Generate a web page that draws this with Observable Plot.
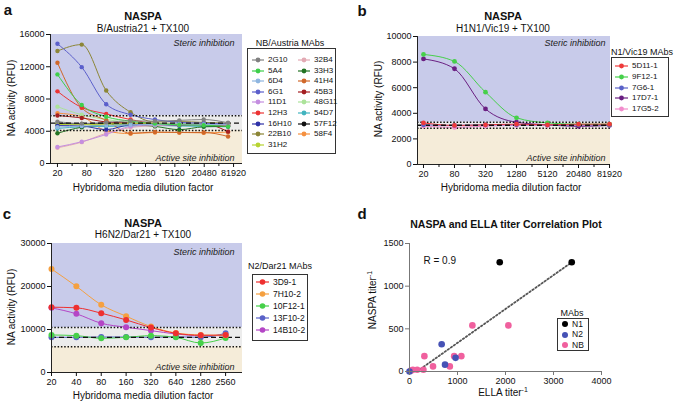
<!DOCTYPE html>
<html><head><meta charset="utf-8">
<script src="https://cdn.jsdelivr.net/npm/d3@7"></script>
<script src="https://cdn.jsdelivr.net/npm/@observablehq/plot@0.6"></script>
<style>
html,body{margin:0;padding:0;background:#fff;}
#root{position:relative;width:675px;height:403px;overflow:hidden;font-family:"Liberation Sans",Arial,sans-serif;color:#111;}
.abs{position:absolute;white-space:nowrap;line-height:1;}
.c{transform:translate(-50%,-50%);}
.rot{transform:translate(-50%,-50%) rotate(-90deg);}
.box{position:absolute;border:1px solid #333;box-sizing:border-box;}
.li{position:absolute;display:flex;align-items:center;height:10px;white-space:nowrap;line-height:1;}
.li svg{display:block;}
</style></head>
<body><div id="root"></div>
<script>
// ---------- Panel a: B/Austria21 ----------
const aDilution = [20, 63, 200, 632, 2000, 6320, 20000, 63200];
const aMAbs = ["2G10","5A4","6D4","6G1","11D1","12H3","16H10","22B10","31H2","32B4","33H3","41H4","45B3","48G11","54D7","57F12","58F4"];
const aColors = ["#808080","#3fcf4a","#8fb6e0","#5b5fcb","#c48ee0","#ec3434","#2f32a8","#8c8636","#b8d432","#e3aab4","#237323","#d0682a","#a41f22","#ace39a","#42b4bf","#111111","#f59040"];
const aValues = [
  [5200, 4950, 5100, 5300, 5250, 5350, 5450, 5050],
  [11050, 7250, 5800, 5250, 4950, 4800, 4750, 4600],
  [4500, 4650, 4700, 4800, 4850, 4900, 4850, 4800],
  [14850, 11950, 7350, 6050, 5450, 5100, 5000, 4900],
  [2050, 2700, 3600, 4600, 4800, 4850, 4900, 4750],
  [8950, 6950, 6150, 5450, 4950, 4800, 4850, 4700],
  [4700, 4650, 4200, 4800, 4850, 4750, 4800, 4700],
  [13950, 14750, 9050, 6350, 5150, 5200, 5100, 5000],
  [4850, 4800, 4900, 4950, 4900, 4850, 4900, 4850],
  [1950, 2650, 3750, 4450, 4700, 4800, 4850, 4800],
  [3750, 4500, 4750, 4800, 4600, 4200, 4550, 4600],
  [12500, 6900, 5350, 3750, 3900, 3850, 3850, 3350],
  [5950, 5650, 5150, 5000, 4900, 4850, 4900, 3950],
  [7050, 6050, 5450, 5100, 5000, 4950, 4900, 4800],
  [4350, 4550, 4600, 4650, 4700, 4650, 4600, 4550],
  [4950, 4900, 4950, 5000, 4950, 4950, 4900, 4900],
  [6250, 5800, 4050, 3700, 3850, 3850, 3800, 3900]
];
const aThresholds = [4100, 5000, 5930];   // lower dotted, dashed, upper dotted
const aYTicks = [0, 4000, 8000, 12000, 16000];
const aXTicks = [20, 80, 320, 1280, 5120, 20480, 81920];
const aXMinor = [40, 160, 640, 2560, 10240, 40960];

// ---------- Panel b: H1N1/Vic19 ----------
const bDilution = [20, 80, 320, 1280, 5120, 20480, 81920];
const bMAbs = ["5D11-1","9F12-1","7G6-1","17D7-1","17G5-2"];
const bColors = ["#ee3a3a","#46d04a","#5a62c8","#6a1f82","#f28ccc"];
const bValues = [
  [3250, 3050, 3100, 3150, 3100, 3150, 3150],
  [8600, 8050, 5650, 3650, 3250, 3150, 3150],
  [3100, 3050, 3100, 3100, 3100, 3100, 3100],
  [8250, 7480, 4340, 3300, 3100, 2980, 3050],
  [3000, 2900, 3000, 3050, 3050, 3050, 3100]
];
const bThresholds = [2830, 3065, 3300];
const bYTicks = [0, 2000, 4000, 6000, 8000, 10000];
const bXTicks = [20, 80, 320, 1280, 5120, 20480, 81920];
const bXMinor = [40, 160, 640, 2560, 10240, 40960];

// ---------- Panel c: H6N2/Dar21 ----------
const cDilution = [20, 40, 80, 160, 320, 640, 1280, 2560];
const cMAbs = ["3D9-1","7H10-2","10F12-1","13F10-2","14B10-2"];
const cColors = ["#ee3030","#f5a040","#46d04a","#5a62c8","#b446c6"];
const cValues = [
  [15190, 15040, 13790, 12230, 10440, 9120, 8650, 8730],
  [24080, 20030, 15740, 13090, 10680, 9190, 8730, 8650],
  [8730, 8570, 7950, 8180, 8570, 8180, 6860, 8030],
  [8180, 8180, 8250, 8250, 8180, 8300, 8180, 9120],
  [15040, 13640, 11450, 10520, 9740, 8960, 8570, 8570]
];
const cErrors = [
  [0,0,0,0,0,0,0,0],
  [0,0,0,0,0,0,0,0],
  [0,0,0,0,0,0,900,400],
  [0,0,0,0,0,0,0,0],
  [0,0,0,0,0,0,0,0]
];
const cThresholds = [6000, 8180, 10440];
const cYTicks = [0, 10000, 20000, 30000];
const cXTicks = [20, 40, 80, 160, 320, 640, 1280, 2560];

// ---------- Panel d: correlation ----------
const dGroups = ["N1","N2","NB"];
const dColors = ["#000000","#4652b5","#f0609e"];
const dN1Ella = [1880, 3380];
const dN1Naspa = [1280, 1280];
const dN2Ella = [0, 670, 740, 960];
const dN2Naspa = [0, 320, 80, 160];
const dNBElla = [1310, 2060, 310, 930, 1080, 490, 840, 70, 160, 290, 30];
const dNBNaspa = [540, 540, 180, 180, 180, 60, 60, 20, 20, 20, 10];
const dFitElla = [230, 3380];
const dFitNaspa = [30, 1280];
const dXTicks = [0, 1000, 2000, 3000, 4000];
const dYTicks = [0, 500, 1000, 1500];

// ---------- helpers ----------
const root = document.getElementById("root");
const FONT = "Liberation Sans, Arial, sans-serif";
function put(node, left, top) {
  node.style.position = "absolute";
  node.style.left = left + "px";
  node.style.top = top + "px";
  root.appendChild(node);
}
function label(html, x, y, size, opt = {}) {
  const d = document.createElement("div");
  d.className = "abs " + (opt.rot ? "rot" : "c");
  d.innerHTML = html;
  d.style.left = x + "px";
  d.style.top = y + "px";
  d.style.fontSize = size + "px";
  if (opt.bold) d.style.fontWeight = "bold";
  root.appendChild(d);
}
function box(x1, y1, x2, y2) {
  const d = document.createElement("div");
  d.className = "box";
  d.style.left = x1 + "px"; d.style.top = y1 + "px";
  d.style.width = (x2 - x1) + "px"; d.style.height = (y2 - y1) + "px";
  root.appendChild(d);
}
function legendItem(x, y, color, text, size, sw, withLine = true, r = 2.4) {
  const d = document.createElement("div");
  d.className = "li";
  d.style.left = x + "px"; d.style.top = (y - 5) + "px";
  d.style.fontSize = size + "px";
  const line = withLine ? `<line x1="0" x2="${sw}" y1="5" y2="5" stroke="${color}" stroke-width="1.2"/>` : "";
  d.innerHTML = `<svg width="${sw}" height="10">${line}<circle cx="${sw/2}" cy="5" r="${r}" fill="${color}"/></svg><span style="margin-left:${withLine?4:3}px">${text}</span>`;
  root.appendChild(d);
}

const plotStyle = {background: "transparent", fontFamily: FONT, fontSize: "9px", color: "#111", overflow: "visible"};

function titration(c) {
  const [lo, mid, hi] = c.thr;
  const marks = [
    Plot.rect([c.thr], {y1: t => t[2], y2: () => c.yDomain[1], fill: "#c8cbea"}),
    Plot.rect([c.thr], {y1: t => t[0], y2: t => t[2], fill: "#ececec"}),
    Plot.rect([c.thr], {y1: () => c.yDomain[0], y2: t => t[0], fill: "#f5ecd9"}),
    Plot.text(["Steric inhibition"], {text: d => d, frameAnchor: "top-right", dx: c.stericD[0], dy: c.stericD[1], fontStyle: "italic", fontSize: 9, fill: "#222"}),
    Plot.text(["Active site inhibition"], {text: d => d, frameAnchor: "bottom-right", dx: c.activeD[0], dy: c.activeD[1], fontStyle: "italic", fontSize: 9, fill: "#222"})
  ];
  const rows = c.names.map((n, i) => c.dil.map((x, j) => ({x, y: c.values[i][j], e: c.errors ? c.errors[i][j] : 0})));
  for (let i = c.names.length - 1; i >= 0; i--) {
    marks.push(Plot.line(rows[i], {x: "x", y: "y", stroke: c.colors[i], strokeWidth: 1, curve: "monotone-x"}));
  }
  marks.push(Plot.ruleY([lo, hi], {stroke: "#111", strokeWidth: 1.5, strokeDasharray: "1.5,1.8"}));
  marks.push(Plot.ruleY([mid], {stroke: "#111", strokeWidth: 1.3, strokeDasharray: "5,3"}));
  for (let i = c.names.length - 1; i >= 0; i--) {
    if (c.errors) marks.push(Plot.ruleX(rows[i].filter(d => d.e > 0), {x: "x", y1: d => d.y - d.e, y2: d => d.y + d.e, stroke: c.colors[i], strokeWidth: 1}));
    marks.push(Plot.dot(rows[i], {x: "x", y: "y", fill: c.colors[i], r: c.r}));
  }
  marks.push(
    Plot.ruleX([c.xDomain[0]], {stroke: "#222", strokeWidth: 1}),
    Plot.ruleY([c.yDomain[0]], {stroke: "#222", strokeWidth: 1}),
    Plot.axisY({ticks: c.yTicks, tickSize: 4, tickPadding: 2, tickFormat: d => String(d), label: null, fontSize: 9}),
    Plot.axisX({ticks: c.xTicks, tickSize: 4, tickFormat: () => "", label: null}),
    Plot.text(c.xTicks, {x: d => d, text: d => String(d), frameAnchor: "bottom", dy: 6, lineAnchor: "top", fontSize: 9, fill: "#111"})
  );
  if (c.xMinor) marks.push(Plot.axisX({ticks: c.xMinor, tickSize: 3, tickFormat: () => "", label: null}));
  const svg = Plot.plot({
    width: c.w, height: c.h,
    marginLeft: c.m[0], marginRight: c.m[1], marginTop: c.m[2], marginBottom: c.m[3],
    style: plotStyle,
    x: {type: "log", domain: c.xDomain},
    y: {domain: c.yDomain},
    marks
  });
  put(svg, c.left, c.top);
}

// Panel a
titration({
  dil: aDilution, names: aMAbs, colors: aColors, values: aValues, thr: aThresholds,
  yDomain: [0, 16000], yTicks: aYTicks, xDomain: [14.4, 125000], xTicks: aXTicks, xMinor: aXMinor,
  w: 245, h: 200, m: [50, 3, 34, 37], left: 0, top: 0, r: 2.2,
  stericD: [-8, 5], activeD: [-8, -3]
});
// Panel b
titration({
  dil: bDilution, names: bMAbs, colors: bColors, values: bValues, thr: bThresholds,
  yDomain: [0, 10000], yTicks: bYTicks, xDomain: [15.3, 85600], xTicks: bXTicks, xMinor: bXMinor,
  w: 275, h: 200, m: [77, 5, 36, 36], left: 340, top: 0, r: 2.4,
  stericD: [-5, 3], activeD: [-5, -4]
});
// Panel c
titration({
  dil: cDilution, names: cMAbs, colors: cColors, values: cValues, errors: cErrors, thr: cThresholds,
  yDomain: [0, 30000], yTicks: cYTicks, xDomain: [20, 4100], xTicks: cXTicks,
  w: 245, h: 203, m: [51, 3, 43, 31], left: 0, top: 200, r: 3,
  stericD: [-8, 5], activeD: [-8, -3]
});

// Panel d
{
  const marks = [
    Plot.line(dFitElla.map((x, i) => ({x, y: dFitNaspa[i]})), {x: "x", y: "y", stroke: "#555", strokeWidth: 1.8, strokeDasharray: "1.5,2.2"}),
    Plot.dot(dNBElla.map((x, i) => ({x, y: dNBNaspa[i]})), {x: "x", y: "y", fill: dColors[2], r: 3.3}),
    Plot.dot(dN2Ella.map((x, i) => ({x, y: dN2Naspa[i]})), {x: "x", y: "y", fill: dColors[1], r: 3.3}),
    Plot.dot(dN1Ella.map((x, i) => ({x, y: dN1Naspa[i]})), {x: "x", y: "y", fill: dColors[0], r: 3.3}),
    Plot.text(["R = 0.9"], {text: d => d, frameAnchor: "top-left", dx: 14, dy: 13, fontSize: 10, fill: "#111"}),
    Plot.ruleX([0], {stroke: "#777", strokeWidth: 1}),
    Plot.ruleY([0], {stroke: "#777", strokeWidth: 1}),
    Plot.axisY({ticks: dYTicks, tickSize: 4, tickPadding: 2, tickFormat: d => String(d), label: null, stroke: "#777", fontSize: 9}),
    Plot.axisX({ticks: dXTicks, tickSize: 4, tickPadding: 2, tickFormat: d => String(d), label: null, stroke: "#777", fontSize: 9})
  ];
  const svg = Plot.plot({
    width: 275, height: 203, marginLeft: 69, marginRight: 14, marginTop: 43, marginBottom: 32,
    style: plotStyle,
    x: {domain: [0, 4000]}, y: {domain: [0, 1500]},
    marks
  });
  put(svg, 340, 200);
}

// ---------- text: panel letters, titles, axis labels ----------
label("a", 8, 9, 15, {bold: true});
label("b", 362, 10, 15, {bold: true});
label("c", 7, 213, 15, {bold: true});
label("d", 362, 213, 15, {bold: true});

label("NASPA", 143, 16, 11, {bold: true});
label("B/Austria21 + TX100", 143, 29, 10);
label("NASPA", 503, 16, 11, {bold: true});
label("H1N1/Vic19 + TX100", 503, 29, 10);
label("NASPA", 143, 223, 11, {bold: true});
label("H6N2/Dar21 + TX100", 143, 235, 10);
label("NASPA and ELLA titer Correlation Plot", 506, 224, 10.5, {bold: true});

label("NA activity (RFU)", 12, 98, 10, {rot: true});
label("Hybridoma media dilution factor", 143, 188, 10);
label("NA activity (RFU)", 379, 99, 10, {rot: true});
label("Hybridoma media dilution factor", 511, 188, 10);
label("NA activity (RFU)", 12, 307, 10, {rot: true});
label("Hybridoma media dilution factor", 143, 396, 10);
label("NASPA titer<sup style='font-size:7px'>-1</sup>", 372, 300, 10, {rot: true});
label("ELLA titer<sup style='font-size:7px'>-1</sup>", 503, 392, 10);

// ---------- legends ----------
label("NB/Austria MAbs", 290, 43, 9);
box(247, 48, 336, 154);
aMAbs.forEach((n, i) => {
  const col = i < 9 ? 0 : 1;
  const row = col === 0 ? i : i - 9;
  legendItem(col === 0 ? 252 : 298, 60 + row * 10.6, aColors[i], n, 8, 12);
});

label("N1/Vic19 MAbs", 642, 52, 9);
box(611, 57, 669, 117);
bMAbs.forEach((n, i) => legendItem(615, 66 + i * 10.8, bColors[i], n, 8, 13));

label("N2/Dar21 MAbs", 280, 266, 9);
box(252, 274, 308, 341);
cMAbs.forEach((n, i) => legendItem(256, 282 + i * 12, cColors[i], n, 8.5, 13, true, 2.8));

label("MAbs", 572, 313, 9);
box(557, 318, 589, 351);
dGroups.forEach((n, i) => legendItem(561, 324 + i * 10.5, dColors[i], n, 8.5, 8, false, 3));
</script></body></html>
